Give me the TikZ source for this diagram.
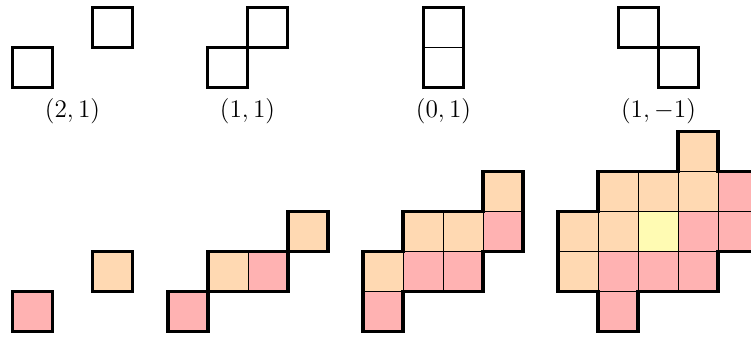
\documentclass[tikz,border=0pt]{standalone}
\usepackage{amsmath,amssymb}
\usepackage{tikz}
\usetikzlibrary{calc}
\tikzset{
  cell/.style={draw=black,line width=0.5pt},
  pk/.style={cell,fill=red!30},
  og/.style={cell,fill=orange!30},
  yl/.style={cell,fill=yellow!30},
  outl/.style={line width=2pt,line join=miter},
  steplbl/.style={font=\Large,inner sep=1pt},
}

\begin{document}
\begin{tikzpicture}[x=0.8cm,y=0.8cm]
  \clip (0,0) rectangle (18.775,8.5);
  % top row: the four single steps
  \begin{scope}[shift={(0.3125,6.3125)}]
    \draw[outl] (0,0) rectangle ++(1,1) (2,1) rectangle ++(1,1);
  \end{scope}
  \begin{scope}[shift={(5.1875,6.3125)}]
    \draw[outl] (0,0) rectangle ++(1,1) (1,1) rectangle ++(1,1);
  \end{scope}
  \begin{scope}[shift={(10.5875,6.3125)}]
    \draw[cell] (0,1) -- (1,1);
    \draw[outl] (0,0) rectangle (1,2);
  \end{scope}
  \begin{scope}[shift={(15.4625,7.3125)}]
    \draw[outl] (0,0) rectangle ++(1,1) (1,-1) rectangle ++(1,1);
  \end{scope}
  \foreach \n/\x/\t in {a/1.8125/{(2,1)},b/6.1875/{(1,1)},
                        c/11.0875/{(0,1)},d/16.4625/{(1,-1)}} {
    \node[steplbl] (lab\n) at (\x,5.71) {$\t$};
  }
  % bottom row: the sums
  \begin{scope}[shift={(0.3125,0.2125)}]
    \draw[pk] (0,0) rectangle ++(1,1);
    \draw[og] (2,1) rectangle ++(1,1);
    \draw[outl] (0,0) rectangle ++(1,1) (2,1) rectangle ++(1,1);
  \end{scope}
  \begin{scope}[shift={(4.2,0.2125)}]
    \foreach \x/\y in {0/0,2/1} \draw[pk] (\x,\y) rectangle ++(1,1);
    \foreach \x/\y in {1/1,3/2} \draw[og] (\x,\y) rectangle ++(1,1);
    \draw[outl] (0,0) rectangle ++(1,1) (1,1) rectangle (3,2)
      (3,2) rectangle ++(1,1);
  \end{scope}
  \begin{scope}[shift={(9.075,0.2125)}]
    \foreach \x/\y in {0/0,1/1,2/1,3/2} \draw[pk] (\x,\y) rectangle ++(1,1);
    \foreach \x/\y in {0/1,1/2,2/2,3/3} \draw[og] (\x,\y) rectangle ++(1,1);
    \draw[outl] (0,0) -- (1,0) -- (1,1) -- (3,1) -- (3,2) -- (4,2) -- (4,4)
      -- (3,4) -- (3,3) -- (1,3) -- (1,2) -- (0,2) -- cycle;
  \end{scope}
  \begin{scope}[shift={(13.95,1.2125)}]
    \foreach \x/\y in {1/-1,1/0,2/0,3/0,3/1,4/1,4/2}
      \draw[pk] (\x,\y) rectangle ++(1,1);
    \foreach \x/\y in {0/0,0/1,1/1,1/2,2/2,3/2,3/3}
      \draw[og] (\x,\y) rectangle ++(1,1);
    \draw[yl] (2,1) rectangle ++(1,1);
    \draw[outl] (1,-1) -- (2,-1) -- (2,0) -- (4,0) -- (4,1) -- (5,1) -- (5,3)
      -- (4,3) -- (4,4) -- (3,4) -- (3,3) -- (1,3) -- (1,2) -- (0,2)
      -- (0,0) -- (1,0) -- cycle;
  \end{scope}
\end{tikzpicture}
\end{document}
